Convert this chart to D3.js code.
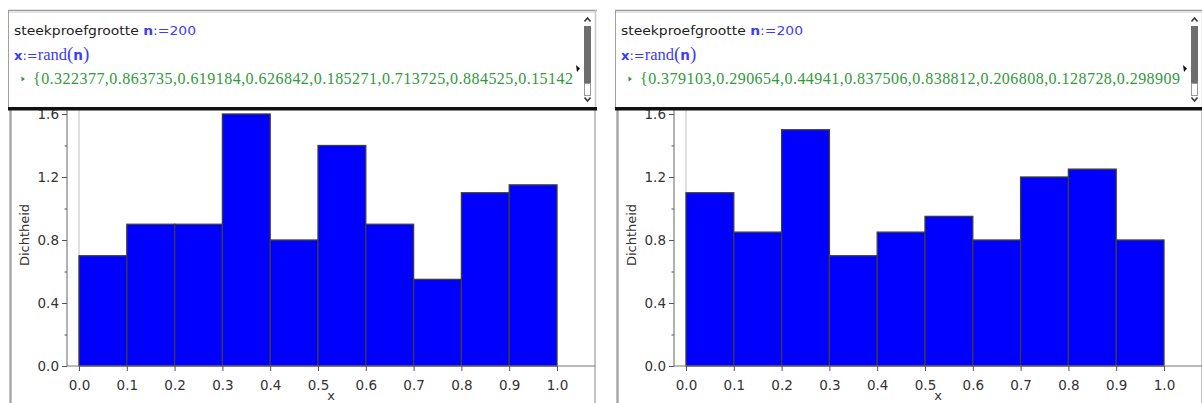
<!DOCTYPE html>
<html>
<head>
<meta charset="utf-8">
<script src="https://cdn.jsdelivr.net/npm/d3@7"></script>
<style>
  html, body { margin: 0; padding: 0; background: #fff; }
  svg { display: block; }
</style>
</head>
<body>
<svg id="chart" width="1202" height="403"></svg>
<script>
// Sample size and the two simulated samples (density per bin of width 0.1)
const sampleSize = 200;
const binEdges = [0, 0.1, 0.2, 0.3, 0.4, 0.5, 0.6, 0.7, 0.8, 0.9, 1.0];
const densityLeft = [0.7, 0.9, 0.9, 1.6, 0.8, 1.4, 0.9, 0.55, 1.1, 1.15];
const densityRight = [1.1, 0.85, 1.5, 0.7, 0.85, 0.95, 0.8, 1.2, 1.25, 0.8];
const sampleLeft = ["0.322377", "0.863735", "0.619184", "0.626842", "0.185271", "0.713725", "0.884525", "0.15142"];
const sampleRight = ["0.379103", "0.290654", "0.44941", "0.837506", "0.838812", "0.206808", "0.128728", "0.298909"];
const yTicks = [0, 0.4, 0.8, 1.2, 1.6];
const yMinorTicks = [0.2, 0.6, 1.0, 1.4];
const xTicks = binEdges;
const yTitle = "Dichtheid";
const xTitle = "x";

const svg = d3.select("#chart");
const BLUE = "#3c3cf5";
const GREEN = "#2f9a3c";
const SANS = "'DejaVu Sans', sans-serif";
const SERIF = "'Liberation Serif', serif";
const fmt = d3.format(".1f");

function drawPanel(offsetX, density, sample, id) {
  const g = svg.append("g").attr("transform", `translate(${offsetX},0)`);

  // ---- calculator header ----
  g.append("rect").attr("x", 8).attr("y", 10).attr("width", 588).attr("height", 97).attr("fill", "#fff");
  g.append("line").attr("x1", 8).attr("x2", 597).attr("y1", 10.5).attr("y2", 10.5)
    .attr("stroke", "#9a9a9a").attr("stroke-width", 1.5);
  g.append("line").attr("x1", 9).attr("x2", 596).attr("y1", 12.5).attr("y2", 12.5)
    .attr("stroke", "#e2e2e2").attr("stroke-width", 1);
  g.append("line").attr("x1", 8.5).attr("x2", 8.5).attr("y1", 10).attr("y2", 107)
    .attr("stroke", "#a0a0a0").attr("stroke-width", 1);
  g.append("line").attr("x1", 595.5).attr("x2", 595.5).attr("y1", 10).attr("y2", 107)
    .attr("stroke", "#c8c8c8").attr("stroke-width", 1.5);

  const clip = "hdrclip" + id;
  g.append("clipPath").attr("id", clip).append("rect")
    .attr("x", 10).attr("y", 13).attr("width", 565).attr("height", 93);
  const hdr = g.append("g").attr("clip-path", `url(#${clip})`);

  const l1 = hdr.append("text").attr("x", 14).attr("y", 35)
    .attr("font-family", SANS).attr("font-size", 13).attr("fill", "#1e1e1e")
    .attr("textLength", 182).attr("lengthAdjust", "spacingAndGlyphs");
  l1.append("tspan").text("steekproefgrootte ");
  l1.append("tspan").attr("fill", BLUE).attr("font-weight", "bold").text("n");
  l1.append("tspan").attr("fill", BLUE).text(":=" + sampleSize);

  const l2 = hdr.append("text").attr("x", 14).attr("y", 60)
    .attr("font-family", SANS).attr("font-size", 13).attr("fill", BLUE);
  l2.append("tspan").attr("font-weight", "bold").text("x");
  l2.append("tspan").text(":=");
  l2.append("tspan").attr("font-family", SERIF).attr("font-size", 16.5).text("rand");
  l2.append("tspan").attr("font-family", SERIF).attr("font-size", 19).text("(");
  l2.append("tspan").attr("font-weight", "bold").attr("font-size", 13.5).text("n");
  l2.append("tspan").attr("font-family", SERIF).attr("font-size", 19).text(")");

  hdr.append("path").attr("d", "M21.5,76.5 L25,79 L21.5,81.5 Z").attr("fill", GREEN);
  hdr.append("text").attr("x", 33).attr("y", 84)
    .attr("font-family", SERIF).attr("font-size", 16).attr("fill", GREEN)
    .attr("textLength", 540).attr("lengthAdjust", "spacing")
    .text("{" + sample.join(","));

  // small "more" pointer at the end of the list line
  g.append("path").attr("d", "M576,65 L580,68.5 L577,72 Z").attr("fill", "#111");

  // scrollbar
  g.append("path").attr("d", "M584.5,21.5 L587.5,18 L590.5,21.5").attr("fill", "none")
    .attr("stroke", "#333").attr("stroke-width", 1.5);
  g.append("rect").attr("x", 584).attr("y", 26).attr("width", 7).attr("height", 57).attr("fill", "#6e6e6e");
  g.append("rect").attr("x", 584.5).attr("y", 83.5).attr("width", 6).attr("height", 12)
    .attr("fill", "#fff").attr("stroke", "#9a9a9a");
  g.append("path").attr("d", "M584.5,97.5 L587.5,101 L590.5,97.5").attr("fill", "none")
    .attr("stroke", "#333").attr("stroke-width", 1.5);

  // ---- histogram area ----
  const x = d3.scaleLinear().domain([0, 1]).range([79, 557]);
  const y = d3.scaleLinear().domain([0, 1.6]).range([366, 114]);
  const axisX = 67;

  const gclip = "grclip" + id;
  g.append("clipPath").attr("id", gclip).append("rect")
    .attr("x", 0).attr("y", 110).attr("width", 600).attr("height", 300);
  const plot = g.append("g").attr("clip-path", `url(#${gclip})`);

  // frame sides
  plot.append("line").attr("x1", 10.5).attr("x2", 10.5).attr("y1", 108).attr("y2", 403)
    .attr("stroke", "#a8a8a8").attr("stroke-width", 2.5);
  plot.append("line").attr("x1", 595).attr("x2", 595).attr("y1", 108).attr("y2", 403)
    .attr("stroke", "#c4c4c4").attr("stroke-width", 2);

  // x = 0 reference line
  plot.append("line").attr("x1", x(0)).attr("x2", x(0)).attr("y1", 110).attr("y2", y(0))
    .attr("stroke", "#c0c0c0").attr("stroke-width", 1);

  // bars
  const bins = density.map((d, i) => ({ x0: binEdges[i], x1: binEdges[i + 1], v: d }));
  plot.append("g").selectAll("rect").data(bins).join("rect")
    .attr("x", d => x(d.x0))
    .attr("width", d => x(d.x1) - x(d.x0))
    .attr("y", d => y(d.v))
    .attr("height", d => y(0) - y(d.v))
    .attr("fill", "#0000ff")
    .attr("stroke", "#3d3d3d")
    .attr("stroke-width", 1.3);

  // horizontal axis line
  plot.append("line").attr("x1", axisX).attr("x2", 595).attr("y1", y(0)).attr("y2", y(0))
    .attr("stroke", "#777").attr("stroke-width", 1);
  // vertical axis line
  plot.append("line").attr("x1", axisX).attr("x2", axisX).attr("y1", 110).attr("y2", y(0))
    .attr("stroke", "#666").attr("stroke-width", 1);

  // y axis
  const yAxis = plot.append("g").attr("transform", `translate(${axisX},0)`)
    .call(d3.axisLeft(y).tickValues(yTicks).tickFormat(fmt).tickSize(5).tickSizeOuter(0));
  yAxis.select(".domain").remove();
  plot.append("g").attr("transform", `translate(${axisX},0)`)
    .call(d3.axisLeft(y).tickValues(yMinorTicks).tickFormat("").tickSize(2.5).tickSizeOuter(0))
    .select(".domain").remove();

  // x axis
  const xAxis = plot.append("g").attr("transform", `translate(0,${y(0)})`)
    .call(d3.axisBottom(x).tickValues(xTicks).tickFormat(fmt).tickSize(5).tickPadding(9).tickSizeOuter(0));
  xAxis.select(".domain").remove();

  plot.selectAll(".tick line").attr("stroke", "#555");
  plot.selectAll(".tick text").attr("font-family", SANS).attr("font-size", 13.5).attr("fill", "#333");

  // titles
  plot.append("text").attr("transform", `translate(29,${(110 + 366) / 2 - 3}) rotate(-90)`)
    .attr("text-anchor", "middle").attr("font-family", SANS).attr("font-size", 13)
    .attr("fill", "#333").text(yTitle);
  plot.append("text").attr("x", (axisX + 595) / 2).attr("y", 400)
    .attr("text-anchor", "middle").attr("font-family", SANS).attr("font-size", 13)
    .attr("fill", "#333").text(xTitle);

  // heavy divider between entry line and graph
  g.append("rect").attr("x", 8).attr("y", 107).attr("width", 589).attr("height", 3.5).attr("fill", "#111");
}

drawPanel(0, densityLeft, sampleLeft, "a");
drawPanel(607, densityRight, sampleRight, "b");
</script>
</body>
</html>
